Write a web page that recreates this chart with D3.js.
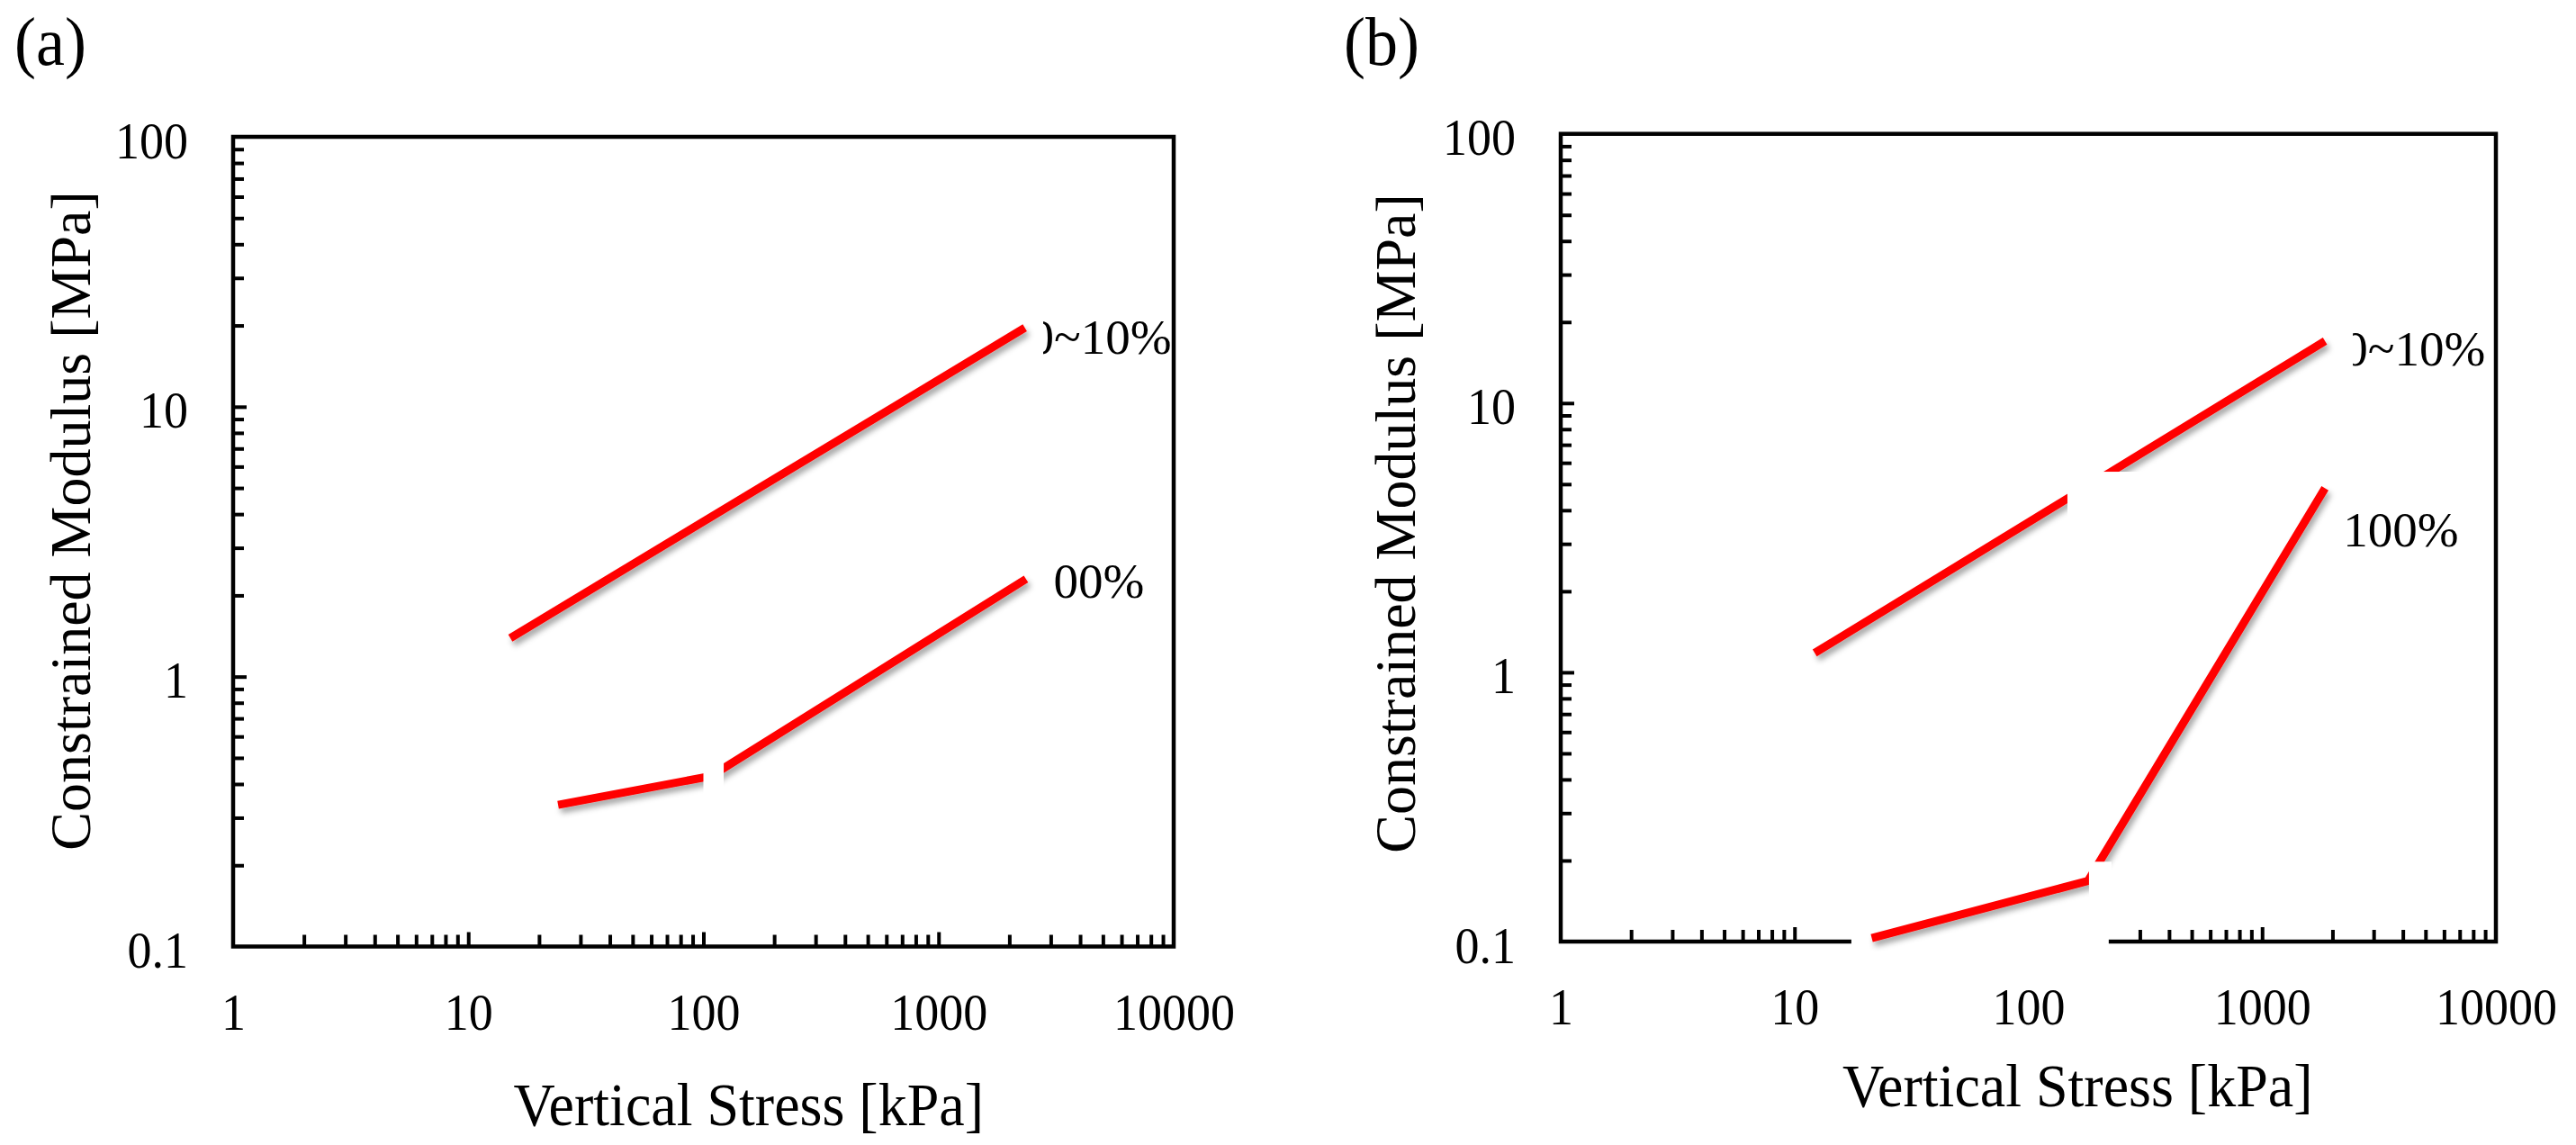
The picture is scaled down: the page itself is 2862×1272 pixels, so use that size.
<!DOCTYPE html>
<html>
<head>
<meta charset="utf-8">
<script src="https://cdn.jsdelivr.net/npm/d3@7"></script>
<style>
  body { margin: 0; background: #fff; }
  text { font-family: "Liberation Serif", "Times New Roman", serif; fill: #000; }
</style>
</head>
<body>
<div id="chart"></div>
<script>
// values: stress in kPa, modulus in MPa
const xTicks = [1, 10, 100, 1000, 10000]
const yTicks = [0.1, 1, 10, 100]
const xTitle = 'Vertical Stress [kPa]'
const yTitle = 'Constrained Modulus [MPa]'
const seriesNames = ['0~10%', '100%']

// panel (a)
const aStressLow = [15.1, 2328]
const aModLow = [1.39, 19.6]
const aStressHigh = [24.1, 107.8, 2355]
const aModHigh = [0.335, 0.428, 2.30]

// panel (b)
const bStressLow = [12.2, 1858]
const bModLow = [1.18, 17.0]
const bStressHigh = [21.4, 180, 1858]
const bModHigh = [0.103, 0.168, 4.83]

// white patches left in the scanned figure, data units [x0, x1, y0, y1]
const aPatches = [[100, 122, 0.3, 0.6]]
const bPatches = [[147, 437, 2.28, 5.56], [181.8, 226.9, 0.1425, 0.198]]
const bAxisGap = [17.5, 220.8]

// chart setting
const chart = { width: 2862, height: 1272 }

const panels = [
  { tag: '(a)', tagX: 16, left: 259, right: 1304, top: 152, bottom: 1051.5,
    yTitleX: 100, yTitleY: 578.5, xTitleX: 570.5, xTitleY: 1250,
    series: [
      { x: aStressLow, y: aModLow, label: seriesNames[0], dx: 5, dy: 29, cut: 0.22 },
      { x: aStressHigh, y: aModHigh, label: seriesNames[1], dx: 3, dy: 21, cut: 0.04 }
    ],
    patches: aPatches, axisGap: null },
  { tag: '(b)', tagX: 1493, left: 1734, right: 2773, top: 148.7, bottom: 1046,
    yTitleX: 1572, yTitleY: 581.5, xTitleX: 2047, xTitleY: 1229,
    series: [
      { x: bStressLow, y: bModLow, label: seriesNames[0], dx: 20, dy: 27, cut: 0.3 },
      { x: bStressHigh, y: bModHigh, label: seriesNames[1], dx: 20, dy: 65, cut: null }
    ],
    patches: bPatches, axisGap: bAxisGap }
]

const svg = d3.select('#chart')
  .append('svg')
    .attr('width', chart.width)
    .attr('height', chart.height)
    .style('display', 'block')
    .style('background', '#fff')

const defs = svg.append('defs')
defs.append('filter')
    .attr('id', 'shadow')
    .attr('filterUnits', 'userSpaceOnUse')
    .attr('x', 0).attr('y', 0)
    .attr('width', chart.width).attr('height', chart.height)
  .append('feDropShadow')
    .attr('dx', 3).attr('dy', 5)
    .attr('stdDeviation', 3)
    .attr('flood-color', '#000')
    .attr('flood-opacity', 0.35)

panels.forEach((p, i) => drawPanel(p, i))

function drawPanel(p, i) {
  const x = d3.scaleLog().domain([xTicks[0], xTicks[xTicks.length - 1]]).range([p.left, p.right])
  const y = d3.scaleLog().domain([yTicks[0], yTicks[yTicks.length - 1]]).range([p.bottom, p.top])

  const xMinor = xTicks.slice(0, -1).flatMap(d => d3.range(2, 10).map(k => d * k))
  const yMinor = yTicks.slice(0, -1).flatMap(d => d3.range(2, 10).map(k => d * k))

  const g = svg.append('g').attr('class', 'panel')

  const styleTicks = sel => {
    sel.select('.domain').remove()
    sel.selectAll('line').attr('stroke', '#000').attr('stroke-width', 4)
  }

  // ticks, pointing into the plot
  g.append('g').attr('transform', `translate(0,${p.bottom})`)
    .call(d3.axisBottom(x).tickValues(xMinor).tickSize(-13).tickSizeOuter(0).tickFormat(''))
    .call(styleTicks)
  g.append('g').attr('transform', `translate(0,${p.bottom})`)
    .call(d3.axisBottom(x).tickValues(xTicks.slice(1, -1)).tickSize(-16).tickSizeOuter(0).tickFormat(''))
    .call(styleTicks)
  g.append('g').attr('transform', `translate(${p.left},0)`)
    .call(d3.axisLeft(y).tickValues(yMinor).tickSize(-12).tickSizeOuter(0).tickFormat(''))
    .call(styleTicks)
  g.append('g').attr('transform', `translate(${p.left},0)`)
    .call(d3.axisLeft(y).tickValues(yTicks.slice(1, -1)).tickSize(-15).tickSizeOuter(0).tickFormat(''))
    .call(styleTicks)

  // tick labels
  g.append('g').attr('transform', `translate(0,${p.bottom})`)
    .call(d3.axisBottom(x).tickValues(xTicks).tickSize(0).tickFormat(d => String(d)))
    .call(a => a.select('.domain').remove())
    .selectAll('text')
      .attr('y', null).attr('dy', null)
      .attr('font-size', 54)
      .attr('transform', 'translate(0,92) scale(1,1.06)')

  g.append('g').attr('transform', `translate(${p.left},0)`)
    .call(d3.axisLeft(y).tickValues(yTicks).tickSize(0).tickFormat(d => String(d)))
    .call(a => a.select('.domain').remove())
    .selectAll('text')
      .attr('x', null).attr('dy', null)
      .attr('font-size', 54)
      .attr('transform', 'translate(-50,23) scale(1,1.06)')

  // frame
  g.append('rect')
    .attr('x', p.left).attr('y', p.top)
    .attr('width', p.right - p.left).attr('height', p.bottom - p.top)
    .attr('fill', 'none')
    .attr('stroke', '#000')
    .attr('stroke-width', 4.5)

  // gap in the bottom axis (axis line and its ticks)
  if (p.axisGap) {
    g.append('rect')
      .attr('x', x(p.axisGap[0])).attr('y', p.bottom - 22)
      .attr('width', x(p.axisGap[1]) - x(p.axisGap[0])).attr('height', 32)
      .attr('fill', '#fff')
  }

  // lines
  const lineGenerator = d3.line()
    .x(d => x(d[0]))
    .y(d => y(d[1]))

  g.selectAll('path.series')
    .data(p.series)
    .join('path')
      .attr('class', 'series')
      .attr('d', s => lineGenerator(d3.zip(s.x, s.y)))
      .attr('fill', 'none')
      .attr('stroke', '#ff0000')
      .attr('stroke-width', 9)
      .attr('stroke-linecap', 'butt')
      .attr('filter', 'url(#shadow)')

  // white patches of the original
  g.selectAll('rect.patch')
    .data(p.patches)
    .join('rect')
      .attr('class', 'patch')
      .attr('x', d => x(d[0]))
      .attr('y', d => y(d[3]))
      .attr('width', d => x(d[1]) - x(d[0]))
      .attr('height', d => y(d[2]) - y(d[3]))
      .attr('fill', '#fff')

  // line labels (partly cut in the original)
  p.series.forEach((s, j) => {
    const n = s.x.length - 1
    const t = g.append('text')
      .attr('x', x(s.x[n]) + s.dx)
      .attr('y', y(s.y[n]) + s.dy)
      .attr('font-size', 55)
      .text(s.label)
    if (s.cut !== null) {
      const cx = t.node().getStartPositionOfChar(1).x - s.cut * 55
      const id = `cut-${i}-${j}`
      defs.append('clipPath').attr('id', id)
        .append('rect')
          .attr('x', cx).attr('y', 0)
          .attr('width', chart.width).attr('height', chart.height)
      t.attr('clip-path', `url(#${id})`)
    }
  })

  // axis titles
  g.append('text')
    .attr('transform', `translate(${p.xTitleX},${p.xTitleY}) scale(1,1.06)`)
    .attr('font-size', 64)
    .text(xTitle)

  g.append('text')
    .attr('transform', `translate(${p.yTitleX},${p.yTitleY}) rotate(-90)`)
    .attr('text-anchor', 'middle')
    .attr('font-size', 64)
    .text(yTitle)

  // panel tag
  g.append('text')
    .attr('transform', `translate(${p.tagX},72) scale(1,1.06)`)
    .attr('font-size', 72)
    .text(p.tag)
}
</script>
</body>
</html>
